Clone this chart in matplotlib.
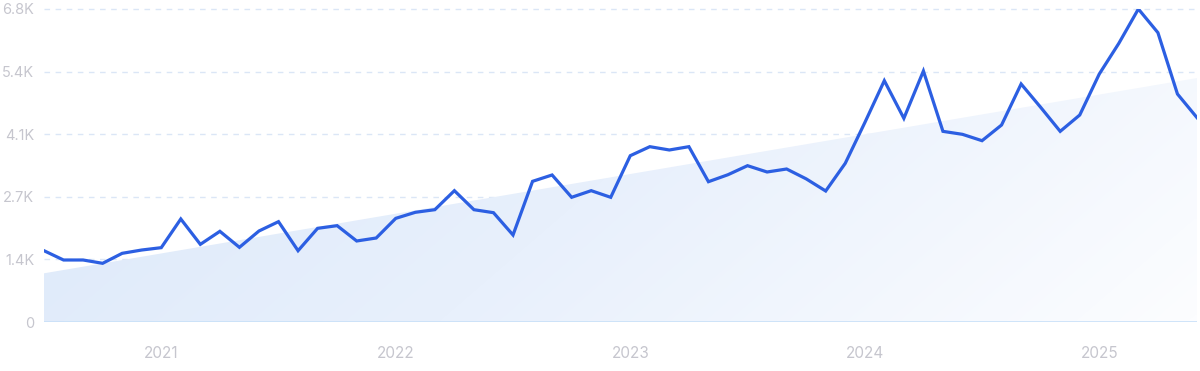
import matplotlib
matplotlib.use("Agg")
import matplotlib.pyplot as plt
import numpy as np
from matplotlib.colors import LinearSegmentedColormap

plt.rcParams['font.family'] = ['Inter', 'DejaVu Sans']

months = ["2020-07","2020-08","2020-09","2020-10","2020-11","2020-12",
          "2021-01","2021-02","2021-03","2021-04","2021-05","2021-06",
          "2021-07","2021-08","2021-09","2021-10","2021-11","2021-12",
          "2022-01","2022-02","2022-03","2022-04","2022-05","2022-06",
          "2022-07","2022-08","2022-09","2022-10","2022-11","2022-12",
          "2023-01","2023-02","2023-03","2023-04","2023-05","2023-06",
          "2023-07","2023-08","2023-09","2023-10","2023-11","2023-12",
          "2024-01","2024-02","2024-03","2024-04","2024-05","2024-06",
          "2024-07","2024-08","2024-09","2024-10","2024-11","2024-12",
          "2025-01","2025-02","2025-03","2025-04","2025-05","2025-06"]
values = [1549, 1347, 1347, 1275, 1492, 1564,
          1615, 2238, 1687, 1970, 1622, 1977,
          2180, 1549, 2035, 2093, 1760, 1825,
          2252, 2383, 2440, 2853, 2440, 2375,
          1890, 3056, 3194, 2709, 2853, 2709,
          3613, 3809, 3737, 3809, 3048, 3200,
          3396, 3259, 3324, 3110, 2846, 3447,
          4330, 5243, 4425, 5453, 4142, 4077,
          3939, 4280, 5171, 4664, 4142, 4497,
          5388, 6054, 6800, 6286, 4953, 4439]
trend_values = [1058, 5300]
y_ticks = [0, 1360, 2720, 4080, 5440, 6800]
y_labels = ["0", "1.4K", "2.7K", "4.1K", "5.4K", "6.8K"]
year_labels = ["2021", "2022", "2023", "2024", "2025"]

fig = plt.figure(figsize=(12, 3.71), dpi=100)
ax = fig.add_axes([44/1200, (371-322)/371, (1197-44)/1200, 313/371])

x = np.arange(len(months))
ax.set_xlim(0, len(months) - 1)
ax.set_ylim(0, 6800)

# gradient-filled trend area
tx = [x[0], x[-1]]
poly = ax.fill_between(tx, [0, 0], trend_values, color="none", lw=0)
cmap = LinearSegmentedColormap.from_list("g", ["#dbe8f9", "#e8f0fc", "#fcfdff"])
nx, ny = 300, 100
gx, gy = np.meshgrid(np.linspace(0, 1, nx), np.linspace(1, 0, ny))
grad = 0.8 * gx + 0.25 * (1 - gy)
grad = grad / grad.max()
im = ax.imshow(grad, cmap=cmap, extent=[x[0], x[-1], 0, 6800], aspect="auto",
               origin="upper", zorder=1, interpolation="bilinear")
path = poly.get_paths()[0]
im.set_clip_path(path, transform=ax.transData)

# grid
for yt in y_ticks[1:]:
    ax.axhline(yt, color="#dbe6f6", lw=1, ls=(0, (4, 4)), zorder=0.5, clip_on=False)
ax.axhline(0, color="#c8e0f8", lw=1.2, zorder=2)

ax.plot(x, values, color="#2c5fe2", lw=2.3, zorder=3, solid_joinstyle="miter")

for s in ax.spines.values():
    s.set_visible(False)

ax.set_yticks(y_ticks)
ax.set_yticklabels(y_labels)
jan_pos = [i for i, m in enumerate(months) if m.endswith("-01")]
ax.set_xticks(jan_pos)
ax.set_xticklabels(year_labels)
ax.tick_params(axis="both", length=0)
ax.tick_params(axis="y", pad=7, labelsize=10.5)
ax.tick_params(axis="x", pad=17, labelsize=11)
for lbl in ax.get_yticklabels() + ax.get_xticklabels():
    lbl.set_color("#c6c6ce")

fig.savefig("out.png", dpi=100)
